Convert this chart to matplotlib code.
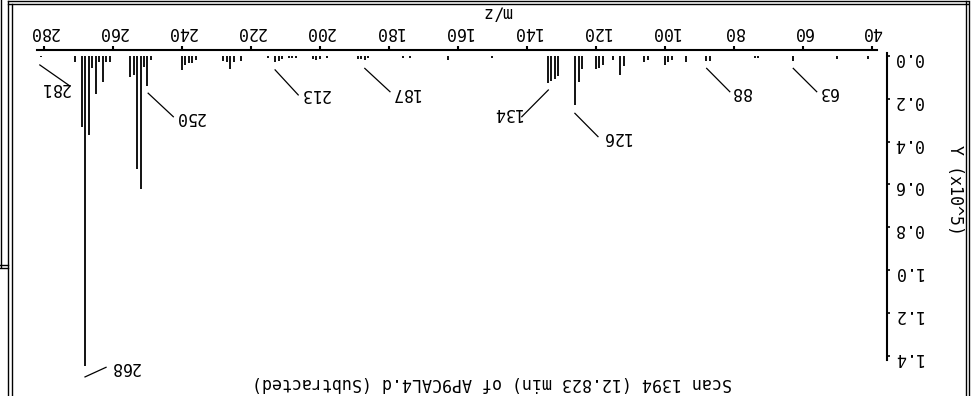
import matplotlib
matplotlib.use("Agg")
import matplotlib.pyplot as plt
from matplotlib.lines import Line2D

plt.rcParams['font.family'] = ['DejaVu Sans Mono']
plt.rcParams['font.size'] = 12

# Spectrum data (m/z, abundance in units of 1e5)
mz = [41, 50, 63, 73, 74, 87, 88, 94, 98, 99, 100, 105, 106,
      112, 113, 115, 118, 119, 120, 124, 125, 126,
      131, 132, 133, 134, 150, 163, 174, 176,
      186, 187, 188, 189, 198, 200, 201, 202,
      207, 208, 209, 211, 212, 213, 215,
      223, 225, 226, 227, 228, 236, 237, 238, 239, 240,
      249, 250, 251, 252, 253, 254, 255,
      261, 262, 263, 264, 265, 266, 267, 268, 269, 271, 281]
abundance = [0.015, 0.015, 0.025, 0.01, 0.01, 0.025, 0.025, 0.03, 0.02, 0.03, 0.04, 0.02, 0.03,
             0.045, 0.09, 0.02, 0.04, 0.055, 0.06, 0.06, 0.12, 0.23,
             0.093, 0.109, 0.117, 0.125, 0.01, 0.02, 0.01, 0.01,
             0.01, 0.02, 0.015, 0.015, 0.01, 0.015, 0.02, 0.015,
             0.01, 0.01, 0.01, 0.015, 0.025, 0.03, 0.01,
             0.025, 0.03, 0.06, 0.03, 0.025, 0.02, 0.035, 0.035, 0.04, 0.065,
             0.02, 0.14, 0.05, 0.62, 0.53, 0.09, 0.1,
             0.03, 0.03, 0.12, 0.03, 0.18, 0.055, 0.37, 1.45, 0.33, 0.03, 0.006]

# Labelled peaks: (label, peak point, label centre)
peak_labels = ['281', '268', '250', '213', '187', '134', '126', '88', '63']
leader_from = [(281.2, 0.042), (268.1, 1.50), (249.8, 0.174), (213.0, 0.065), (187.0, 0.058),
               (133.8, 0.159), (126.1, 0.268), (87.9, 0.058), (62.8, 0.058)]
leader_to = [(272.5, 0.14), (262.0, 1.455), (242.5, 0.284), (206.3, 0.182), (179.7, 0.167),
             (141.5, 0.284), (119.4, 0.377), (81.2, 0.167), (56.0, 0.167)]
label_pos = [(276.8, 0.15), (256.7, 1.453), (237.7, 0.285), (201.4, 0.178), (175.2, 0.173),
             (145.9, 0.267), (114.3, 0.377), (78.0, 0.168), (52.9, 0.168)]

x_ticks = [40, 60, 80, 100, 120, 140, 160, 180, 200, 220, 240, 260, 280]
y_ticks = [0.0, 0.2, 0.4, 0.6, 0.8, 1.0, 1.2, 1.4]

fig = plt.figure(figsize=(9.75, 3.96), dpi=100)
ax = fig.add_axes([0.0379, 0.0379, 0.8615, 0.8359])

ax.vlines(mz, 0, abundance, color='black', linewidth=1.3)

# The whole picture is upside down: invert both axes and turn the text
ax.set_xlim(282.03, 38.55)
ax.set_ylim(1.519, -0.028)

for s in ['left', 'bottom']:
    ax.spines[s].set_visible(False)
ax.spines['top'].set_linewidth(1.5)
ax.spines['right'].set_linewidth(1.5)
ax.spines['right'].set_position(('outward', 7.2))
ax.spines['right'].set_bounds(-0.014, 1.42)

ax.xaxis.tick_top()
ax.set_xticks(x_ticks)
ax.tick_params(axis='x', direction='out', length=3, width=1.5, pad=3.5, labelrotation=180)
ax.yaxis.tick_right()
ax.set_yticks(y_ticks)
ax.set_yticklabels([f"{v:.1f}" for v in y_ticks])
ax.tick_params(axis='y', direction='out', length=2.5, width=1.2, pad=2, labelrotation=180)

ax.set_xlabel('m/z', rotation=180, ha='center', va='center')
ax.xaxis.set_label_coords(0.5476, 1.112)
ax.set_ylabel('Y (x10^5)', rotation=270, ha='center', va='center')
ax.yaxis.set_label_coords(1.093, 0.577)

ax.text(0.5417, -0.006, 'Scan 1394 (12.823 min) of AP9CAL4.d (Subtracted)',
        transform=ax.transAxes, rotation=180, ha='center', va='center')

for lab, p0, p1, pt in zip(peak_labels, leader_from, leader_to, label_pos):
    ax.plot([p0[0], p1[0]], [p0[1], p1[1]], color='black', linewidth=0.9, clip_on=False)
    ax.text(pt[0], pt[1], lab, rotation=180, ha='center', va='center')

# window frame lines (pixel positions)
W, H = 975.0, 396.0
frame = [((8, 968), (1, 1)), ((8, 968), (4, 4)),
         ((8, 8), (1, 396)), ((12, 12), (4, 396)),
         ((966, 966), (1, 396)), ((969, 969), (1, 396)),
         ((1, 1), (0, 267)), ((0, 8), (265, 265)), ((0, 8), (268, 268))]
for xs, ys in frame:
    fig.add_artist(Line2D([xs[0] / W, xs[1] / W], [1 - ys[0] / H, 1 - ys[1] / H],
                          transform=fig.transFigure, color='black', linewidth=1.0))

fig.savefig('out.png', dpi=100)
